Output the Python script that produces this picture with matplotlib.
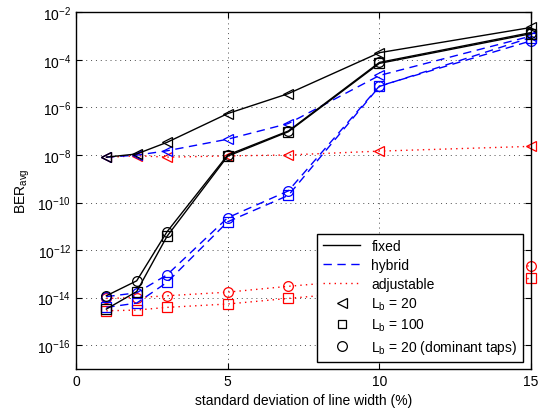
import matplotlib
matplotlib.use("Agg")
import matplotlib.pyplot as plt
from matplotlib.lines import Line2D
import numpy as np

plt.rcParams["font.family"] = ["Liberation Sans", "DejaVu Sans"]
plt.rcParams["mathtext.fontset"] = "custom"
plt.rcParams["mathtext.rm"] = "Liberation Sans"
plt.rcParams["mathtext.it"] = "Liberation Sans"
plt.rcParams["mathtext.default"] = "regular"

# ── data (BER) ────────────────────────────────────────────────────────────────
sigma = [1, 2, 3, 5, 7, 10, 15]

fixed_l20  = [8.1e-9, 1.1e-8, 3.4e-8, 5.5e-7, 3.8e-6, 2.0e-4, 2.3e-3]
fixed_l100 = [3.3e-15, 1.8e-14, 3.8e-12, 8.9e-9, 9.5e-8, 7.1e-5, 1.26e-3]
fixed_dom  = [1.2e-14, 5.1e-14, 5.9e-12, 1.0e-8, 1.02e-7, 7.8e-5, 1.4e-3]

hybrid_l20  = [8.1e-9, 9.8e-9, 1.5e-8, 4.6e-8, 2.1e-7, 2.2e-5, 1.0e-3]
hybrid_l100 = [3.9e-15, 5.9e-15, 4.4e-14, 1.55e-11, 2.0e-10, 7.6e-6, 8.7e-4]
hybrid_dom  = [1.1e-14, 1.6e-14, 9.1e-14, 2.3e-11, 3.1e-10, 7.9e-6, 6.3e-4]

adj_l20  = [7.9e-9, 9.3e-9, 8.1e-9, 9.1e-9, 1.0e-8, 1.45e-8, 2.3e-8]
adj_l100 = [2.8e-15, 3.0e-15, 3.9e-15, 5.4e-15, 9.3e-15, 2.0e-14, 6.5e-14]
adj_dom  = [9.3e-15, 1.0e-14, 1.2e-14, 1.7e-14, 3.0e-14, 6.3e-14, 2.2e-13]

x_ticks = [0, 5, 10, 15]
y_ticks = [1e-16, 1e-14, 1e-12, 1e-10, 1e-8, 1e-6, 1e-4, 1e-2]

# ── plot ──────────────────────────────────────────────────────────────────────
fig = plt.figure(figsize=(5.43, 4.10), dpi=100)
ax = fig.add_axes([0.140, 0.0976, 0.838, 0.870])

styles = {
    "fixed":  dict(color="black", linestyle="-", linewidth=1.0),
    "hybrid": dict(color="blue", linestyle=(0, (6, 4)), linewidth=1.0),
    "adj":    dict(color="red", linestyle=(0, (1, 3)), linewidth=1.0),
}
series = [
    ("adj", adj_l20, "<"), ("adj", adj_l100, "s"), ("adj", adj_dom, "o"),
    ("hybrid", hybrid_l20, "<"), ("hybrid", hybrid_l100, "s"), ("hybrid", hybrid_dom, "o"),
    ("fixed", fixed_l20, "<"), ("fixed", fixed_l100, "s"), ("fixed", fixed_dom, "o"),
]
for kind, vals, mk in series:
    st = styles[kind]
    ax.plot(sigma, vals, marker=mk, markersize=7, markerfacecolor="none",
            markeredgecolor=st["color"], markeredgewidth=0.9, clip_on=False, **st)

ax.set_yscale("log")
ax.set_xlim(0, 15)
ax.set_ylim(1e-17, 1e-2)
ax.set_xticks(x_ticks)
ax.set_yticks(y_ticks)
ax.minorticks_off()
ax.grid(True, linestyle=(0, (1, 4)), color="0.3", linewidth=0.7)
ax.set_axisbelow(True)
ax.tick_params(direction="in", top=True, right=True, length=4, labelsize=10)
for sp in ax.spines.values():
    sp.set_linewidth(1.0)

ax.set_xlabel("standard deviation of line width (%)", fontsize=10)
ax.set_ylabel(r"BER$_{avg}$", fontsize=10)

handles = [
    Line2D([], [], color="black", linestyle="-", linewidth=1.0),
    Line2D([], [], color="blue", linestyle=(0, (6, 4)), linewidth=1.0),
    Line2D([], [], color="red", linestyle=(0, (1, 3)), linewidth=1.0),
    Line2D([], [], color="black", linestyle="none", marker="<", markersize=7,
           markerfacecolor="none", markeredgewidth=0.9),
    Line2D([], [], color="black", linestyle="none", marker="s", markersize=6,
           markerfacecolor="none", markeredgewidth=0.9),
    Line2D([], [], color="black", linestyle="none", marker="o", markersize=7,
           markerfacecolor="none", markeredgewidth=0.9),
]
labels = ["fixed", "hybrid", "adjustable",
          r"L$_b$ = 20", r"L$_b$ = 100", r"L$_b$ = 20 (dominant taps)"]
leg = ax.legend(handles, labels, loc="lower right", bbox_to_anchor=(0.983, 0.02),
                borderaxespad=0, fancybox=False, framealpha=1, edgecolor="black",
                fontsize=10, handlelength=2.7, labelspacing=0.35, borderpad=0.4)
leg.get_frame().set_linewidth(1.0)
leg.set_zorder(5)

fig.savefig("out.png", dpi=100)
